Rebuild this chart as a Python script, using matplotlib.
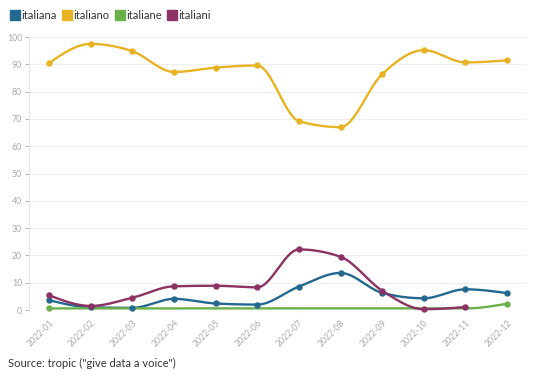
import numpy as np
import matplotlib.pyplot as plt
import matplotlib.lines as mlines

plt.rcParams['font.family'] = ['Lato', 'DejaVu Sans']

months = ['2022-01', '2022-02', '2022-03', '2022-04', '2022-05', '2022-06',
          '2022-07', '2022-08', '2022-09', '2022-10', '2022-11', '2022-12']
italiana = [3.6, 1.0, 0.8, 4.1, 2.4, 2.0, 8.6, 13.6, 6.3, 4.3, 7.6, 6.2]
italiano = [90.5, 97.5, 94.8, 87.2, 88.8, 89.6, 69.2, 67.0, 86.4, 95.2, 90.7, 91.5]
italiane = [0.6, 0.6, 0.6, 0.6, 0.6, 0.6, 0.6, 0.6, 0.6, 0.6, 0.6, 2.3]
italiani = [5.4, 1.5, 4.5, 8.7, 8.9, 8.3, 22.2, 19.5, 7.1, 0.3, 1.1, None]

colors = {'italiana': '#23698f', 'italiano': '#e8b322',
          'italiane': '#6ab04a', 'italiani': '#8c3265'}


def smooth(xs, ys, n=30):
    # monotone cubic (like d3.curveMonotoneX)
    xs = np.asarray(xs, float)
    ys = np.asarray(ys, float)
    k = len(ys)
    h = np.diff(xs)
    s = np.diff(ys) / h
    m = np.zeros(k)
    for i in range(1, k - 1):
        p = (s[i - 1] * h[i] + s[i] * h[i - 1]) / (h[i - 1] + h[i])
        m[i] = (np.sign(s[i - 1]) + np.sign(s[i])) * min(abs(s[i - 1]), abs(s[i]), 0.5 * abs(p))
    m[0] = (3 * s[0] - m[1]) / 2
    m[-1] = (3 * s[-1] - m[-2]) / 2
    ox, oy = [], []
    for i in range(k - 1):
        t = np.linspace(0, 1, n, endpoint=False)
        h00 = 2 * t**3 - 3 * t**2 + 1
        h10 = t**3 - 2 * t**2 + t
        h01 = -2 * t**3 + 3 * t**2
        h11 = t**3 - t**2
        ox.extend(xs[i] + t * h[i])
        oy.extend(h00 * ys[i] + h10 * h[i] * m[i] + h01 * ys[i + 1] + h11 * h[i] * m[i + 1])
    ox.append(xs[-1])
    oy.append(ys[-1])
    return np.array(ox), np.array(oy)


fig = plt.figure(figsize=(5.4, 3.9), dpi=100)
ax = fig.add_axes([0.054, 0.205, 0.922, 0.70])

series = [('italiana', italiana), ('italiano', italiano),
          ('italiane', italiane), ('italiani', italiani)]
for name, vals in series:
    idx = [i for i, v in enumerate(vals) if v is not None]
    yv = [vals[i] for i in idx]
    sx, sy = smooth(idx, yv)
    c = colors[name]
    ax.plot(sx, sy, color=c, lw=1.7, clip_on=False, zorder=3)
    if name == 'italiane':
        ax.plot([idx[0], idx[-1]], [yv[0], yv[-1]], 'o', color=c, ms=3.6, zorder=4, clip_on=False)
    else:
        ax.plot(idx, yv, 'o', color=c, ms=3.6, zorder=4, clip_on=False)

ax.set_xlim(-0.48, 11.48)
ax.set_ylim(0, 100)
ax.set_yticks(range(0, 101, 10))
ax.set_xticks(range(len(months)))
ax.set_xticklabels(months, rotation=45, ha='right', rotation_mode='anchor')
ax.tick_params(axis='both', colors='#aaaaaa', labelsize=6.3, length=3, width=0.6)
ax.tick_params(axis='x', length=0, pad=6)
ax.tick_params(axis='y', pad=2)
ax.grid(axis='y', color='#eeeeee', lw=0.8)
ax.set_axisbelow(True)
for s in ['top', 'right', 'bottom']:
    ax.spines[s].set_visible(False)
ax.spines['left'].set_color('#e6e6e6')
ax.spines['left'].set_bounds(-0.8, 100)

handles = [mlines.Line2D([], [], color=colors[n], marker='s', ls='', ms=7.5, label=n)
           for n, _ in series]
fig.legend(handles=handles, loc='upper left', bbox_to_anchor=(0.002, 1.0), ncol=4,
           frameon=False, fontsize=8, handlelength=0.7, handletextpad=0.25,
           columnspacing=0.55, labelcolor='#333333')

fig.text(0.015, 0.06, 'Source: tropic ("give data a voice")', fontsize=8, color='#333333')

plt.savefig('out.png', dpi=100)
plt.close()
